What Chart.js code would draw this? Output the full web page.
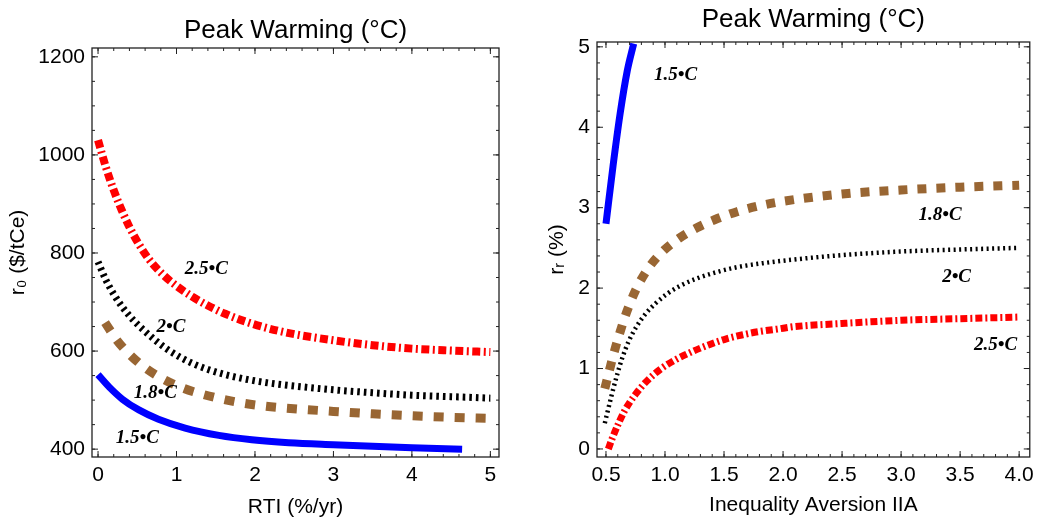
<!DOCTYPE html>
<html>
<head>
<meta charset="utf-8">
<script src="https://cdn.jsdelivr.net/npm/chart.js@4"></script>
<style>
  html, body { margin: 0; padding: 0; background: #fff; }
  #wrap { position: relative; width: 1040px; height: 518px; }
  .box { position: absolute; top: 0; width: 520px; height: 518px; }
</style>
</head>
<body>
<div id="wrap">
  <div class="box" style="left:0"><canvas id="c1" width="520" height="518"></canvas></div>
  <div class="box" style="left:520px"><canvas id="c2" width="520" height="518"></canvas></div>
</div>
<script>
// ---------- Left panel data: r0 ($/tCe) vs RTI (%/yr) ----------
const rtiX_15 = [0, 0.14, 0.31, 0.52, 0.77, 1.11, 1.54, 1.96, 2.43, 3, 3.5, 4, 4.64];
const r0_15   = [552, 527, 502, 480, 461, 443, 428, 419, 413, 409, 406, 403, 400];
const rtiX_18 = [0.09, 0.24, 0.41, 0.6, 0.84, 1.09, 1.33, 1.58, 1.84, 2.11, 2.37, 3, 3.5, 4, 4.5, 5];
const r0_18   = [658, 622, 592, 566, 542, 524, 512, 502, 494, 488, 484, 477, 472, 468, 465, 463];
const rtiX_20 = [0, 0.1, 0.2, 0.3, 0.4, 0.5, 0.6, 0.73, 0.86, 1.03, 1.2, 1.41, 1.62, 1.84, 2.13, 2.43, 3, 3.5, 4, 4.5, 5];
const r0_20   = [782, 745, 716, 692, 672, 655, 640, 622, 606, 589, 575, 562, 552, 544, 536, 530, 521, 515, 510, 507, 504];
const rtiX_25 = [0, 0.1, 0.2, 0.3, 0.4, 0.52, 0.65, 0.82, 0.99, 1.2, 1.41, 1.62, 1.96, 2.39, 3, 3.5, 4, 4.5, 5];
const r0_25   = [1030, 975, 928, 888, 853, 818, 787, 757, 734, 711, 692, 676, 656, 638, 622, 612, 605, 601, 598];
const leftXTicks = [0, 1, 2, 3, 4, 5];
const leftYTicks = [400, 600, 800, 1000, 1200];
const leftLabels = ['1.5•C', '1.8•C', '2•C', '2.5•C'];
const leftLabelX = [0.5, 0.73, 0.93, 1.38];
const leftLabelY = [422, 514, 649, 767];

// ---------- Right panel data: r_r (%) vs Inequality Aversion IIA ----------
const iiaX_15 = [0.5, 0.56, 0.62, 0.68, 0.735];
const rr_15   = [2.8, 3.52, 4.17, 4.7, 5.04];
const iiaX_18 = [0.49, 0.54, 0.58, 0.64, 0.69, 0.76, 0.86, 0.97, 1.11, 1.27, 1.42, 1.61, 1.79, 1.96, 2.5, 3, 3.5, 4];
const rr_18   = [0.75, 1.04, 1.26, 1.55, 1.76, 2.0, 2.25, 2.44, 2.61, 2.75, 2.85, 2.95, 3.02, 3.07, 3.17, 3.22, 3.255, 3.28];
const iiaX_20 = [0.49, 0.55, 0.59, 0.64, 0.69, 0.75, 0.83, 0.92, 1.02, 1.13, 1.27, 1.44, 1.61, 1.83, 2.09, 2.5, 3, 3.5, 4];
const rr_20   = [0.32, 0.68, 0.9, 1.14, 1.33, 1.5, 1.67, 1.81, 1.93, 2.03, 2.12, 2.2, 2.26, 2.31, 2.355, 2.41, 2.455, 2.48, 2.5];
const iiaX_25 = [0.52, 0.55, 0.61, 0.66, 0.75, 0.85, 0.96, 1.09, 1.23, 1.38, 1.52, 1.66, 1.8, 1.95, 2.09, 2.5, 3, 3.5, 4];
const rr_25   = [0, 0.12, 0.33, 0.48, 0.68, 0.85, 0.99, 1.11, 1.21, 1.3, 1.37, 1.42, 1.46, 1.49, 1.52, 1.56, 1.6, 1.62, 1.64];
const rightXTicks = [0.5, 1.0, 1.5, 2.0, 2.5, 3.0, 3.5, 4.0];
const rightYTicks = [0, 1, 2, 3, 4, 5];
const rightLabels = ['1.5•C', '1.8•C', '2•C', '2.5•C'];
const rightLabelX = [1.09, 3.33, 3.47, 3.8];
const rightLabelY = [4.65, 2.91, 2.14, 1.29];

const titleText = 'Peak Warming (°C)';
const SANS = '"Liberation Sans", Arial, "DejaVu Sans", sans-serif';
const SERIF = '"Liberation Serif", "Times New Roman", "DejaVu Serif", serif';

const BLUE = '#0000ff', BROWN = '#996633', BLACK = '#000000', RED = '#ff0000';

function pts(xs, ys) { return xs.map((x, i) => ({ x: x, y: ys[i] })); }

function ds(label, xs, ys, color, width, dash) {
  return {
    label: label, data: pts(xs, ys), borderColor: color, backgroundColor: color,
    borderWidth: width, borderDash: dash, borderCapStyle: 'butt', borderJoinStyle: 'round',
    pointRadius: 0, pointHoverRadius: 0, fill: false,
    cubicInterpolationMode: 'monotone', tension: 0.4
  };
}

// frame + inward ticks + annotation labels
function framePlugin(cfg) {
  return {
    id: 'frame',
    afterDatasetsDraw(chart) {
      const ctx = chart.ctx, a = chart.chartArea;
      const xs = chart.scales.x, ys = chart.scales.y;
      ctx.save();
      ctx.strokeStyle = '#222';
      ctx.lineWidth = 1.3;
      ctx.strokeRect(a.left, a.top, a.right - a.left, a.bottom - a.top);
      ctx.lineWidth = 1;
      const tick = (v, scale, horiz, len) => {
        const p = scale.getPixelForValue(v);
        ctx.beginPath();
        if (horiz) {
          ctx.moveTo(p, a.bottom); ctx.lineTo(p, a.bottom - len);
          ctx.moveTo(p, a.top); ctx.lineTo(p, a.top + len);
        } else {
          ctx.moveTo(a.left, p); ctx.lineTo(a.left + len, p);
          ctx.moveTo(a.right, p); ctx.lineTo(a.right - len, p);
        }
        ctx.stroke();
      };
      for (let v = cfg.xMinor[0]; v <= cfg.xMinor[1] + 1e-9; v += cfg.xMinor[2]) {
        const vv = Math.round(v * 1000) / 1000;
        if (vv < xs.min || vv > xs.max) continue;
        tick(vv, xs, true, 3);
      }
      cfg.xTicks.forEach(v => tick(v, xs, true, 6));
      for (let v = cfg.yMinor[0]; v <= cfg.yMinor[1] + 1e-9; v += cfg.yMinor[2]) {
        const vv = Math.round(v * 1000) / 1000;
        if (vv < ys.min || vv > ys.max) continue;
        tick(vv, ys, false, 3);
      }
      cfg.yTicks.forEach(v => tick(v, ys, false, 6));
      // labels
      ctx.fillStyle = '#000';
      ctx.font = 'italic bold 19px ' + SERIF;
      ctx.textAlign = 'center';
      ctx.textBaseline = 'middle';
      cfg.labels.forEach((t, i) => {
        ctx.fillText(t, xs.getPixelForValue(cfg.labelX[i]), ys.getPixelForValue(cfg.labelY[i]));
      });
      ctx.restore();
    }
  };
}

function makeChart(id, o) {
  return new Chart(document.getElementById(id), {
    type: 'line',
    data: { datasets: o.datasets },
    options: {
      responsive: false, animation: false, devicePixelRatio: 1,
      layout: { padding: { left: 0, right: o.padRight, top: 0, bottom: 0 } },
      plugins: {
        legend: { display: false }, tooltip: { enabled: false },
        title: {
          display: true, text: titleText, fullSize: false, color: '#000',
          font: { family: SANS, size: 26, weight: 'normal', lineHeight: 1 },
          padding: o.titlePad
        }
      },
      scales: {
        x: {
          type: 'linear', min: o.xMin, max: o.xMax,
          afterBuildTicks: s => { s.ticks = o.xTicks.map(v => ({ value: v })); },
          afterFit: s => { s.height = 61; },
          grid: { display: false, drawTicks: false }, border: { display: false },
          ticks: {
            color: '#000', padding: 6, maxRotation: 0, autoSkip: false,
            font: { family: SANS, size: 21 },
            callback: v => o.xFmt(v)
          },
          title: {
            display: true, text: o.xTitle, color: '#000',
            font: { family: SANS, size: 21, lineHeight: 1 },
            padding: { top: 0, bottom: o.xTitleBottom }
          }
        },
        y: {
          type: 'linear', min: o.yMin, max: o.yMax,
          afterBuildTicks: s => { s.ticks = o.yTicks.map(v => ({ value: v })); },
          afterFit: s => { s.width = o.yWidth; },
          grid: { display: false, drawTicks: false }, border: { display: false },
          ticks: {
            color: '#000', padding: 7, autoSkip: false,
            font: { family: SANS, size: 21 },
            callback: v => String(v)
          },
          title: {
            display: true, text: o.yTitle, color: '#000',
            font: { family: SANS, size: 21, lineHeight: 1 },
            padding: { top: o.yTitleTop, bottom: 0 }
          }
        }
      }
    },
    plugins: [framePlugin(o.frame)]
  });
}

makeChart('c1', {
  datasets: [
    ds('1.5°C', rtiX_15, r0_15, BLUE, 7, []),
    ds('1.8°C', rtiX_18, r0_18, BROWN, 9, [10, 11]),
    ds('2°C', rtiX_20, r0_20, BLACK, 7, [2.6, 4]),
    ds('2.5°C', rtiX_25, r0_25, RED, 8, [8, 3.5, 2, 3.5])
  ],
  padRight: 21, titlePad: { top: 17.5, bottom: 4.5 },
  xMin: -0.077, xMax: 5.11, yMin: 384, yMax: 1218,
  xTicks: leftXTicks, yTicks: leftYTicks,
  xFmt: v => String(v),
  xTitle: 'RTI (%/yr)', xTitleBottom: 0.5,
  yTitle: 'r₀ ($/tCe)', yTitleTop: 7.5, yWidth: 92,
  frame: {
    xTicks: leftXTicks, yTicks: leftYTicks,
    xMinor: [0, 5, 0.2], yMinor: [400, 1200, 50],
    labels: leftLabels, labelX: leftLabelX, labelY: leftLabelY
  }
});

makeChart('c2', {
  datasets: [
    ds('1.5°C', iiaX_15, rr_15, BLUE, 7, []),
    ds('1.8°C', iiaX_18, rr_18, BROWN, 9, [9, 10]),
    ds('2°C', iiaX_20, rr_20, BLACK, 4.5, [2, 3.5]),
    ds('2.5°C', iiaX_25, rr_25, RED, 7, [7, 3, 2, 3])
  ],
  padRight: 9, titlePad: { top: 7, bottom: 9 },
  xMin: 0.424, xMax: 4.09, yMin: -0.1, yMax: 5.06,
  xTicks: rightXTicks, yTicks: rightYTicks,
  xFmt: v => Number(v).toFixed(1),
  xTitle: 'Inequality Aversion IIA', xTitleBottom: 2.5,
  yTitle: 'rᵣ (%)', yTitleTop: 26.5, yWidth: 77,
  frame: {
    xTicks: rightXTicks, yTicks: rightYTicks,
    xMinor: [0.5, 4.0, 0.1], yMinor: [0, 5, 0.2],
    labels: rightLabels, labelX: rightLabelX, labelY: rightLabelY
  }
});
</script>
</body>
</html>
